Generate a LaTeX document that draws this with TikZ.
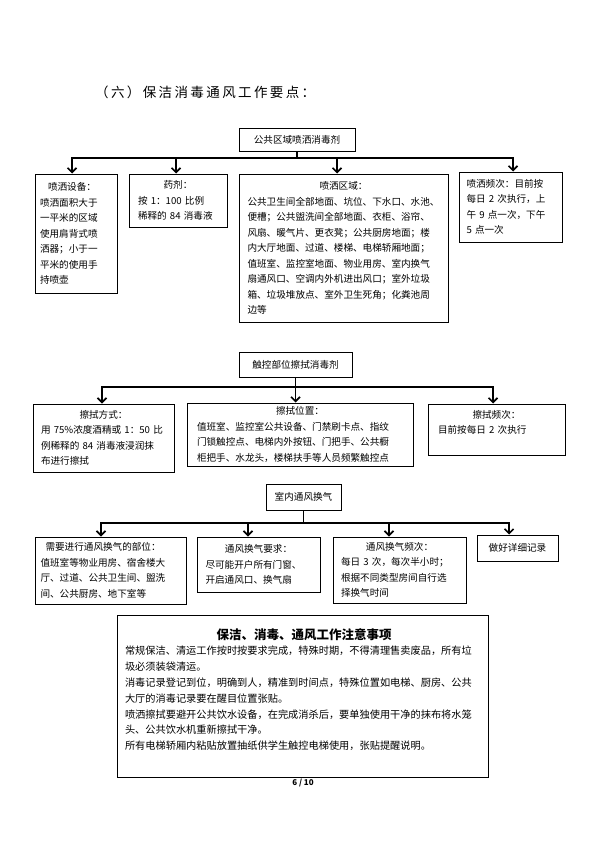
\documentclass[tikz,border=0pt]{standalone}
\usepackage{fontspec}
\setmainfont{Noto Sans CJK SC}
\usetikzlibrary{arrows.meta}
\XeTeXlinebreaklocale "zh"
\XeTeXlinebreakskip=0pt plus 2pt
\newcommand\jl[1]{\makebox[\linewidth][s]{#1}}
\newcommand\cl[1]{\makebox[\linewidth][c]{#1}}
\tikzset{
  box/.style={draw, line width=1pt, inner ysep=0pt, align=left, font=\fontsize{9.6}{15.5}\selectfont},
  head/.style={draw, line width=1pt, inner sep=0pt, font=\fontsize{9.6}{12}\selectfont},
  bus/.style={line width=1.6pt, line cap=rect},
  arr/.style={line width=1.6pt, -{Straight Barb[length=4.5pt,width=9pt]}},
}
\begin{document}
\begin{tikzpicture}[x=1pt,y=-1pt]
\useasboundingbox (0,0) rectangle (600,848);
\node[anchor=west, inner sep=0pt, font=\fontsize{13.5}{16}\selectfont] (title) at (95,92) {\makebox[220pt][s]{（\hfill 六\hfill ）\hfill 保\hfill 洁\hfill 消\hfill 毒\hfill 通\hfill 风\hfill 工\hfill 作\hfill 要\hfill 点\hfill ：}};

% ---- section 1
\node[head, minimum width=116pt, minimum height=22pt] (t1) at (297,140) {公共区域喷洒消毒剂};
\node[box, text width=72pt, inner xsep=5pt, minimum height=119pt] (b1) at (76,233.5) {%
\hspace*{8pt}喷洒设备：\\
\jl{喷洒面积大于}\\
\jl{一平米的区域}\\
\jl{使用肩背式喷}\\
\jl{洒器；小于一}\\
\jl{平米的使用手}\\
持喷壶};
\node[box, text width=80pt, inner xsep=9pt, minimum height=53pt] (b2) at (178,200.5) {%
\cl{药剂：}\\
按 1：100 比例\\
稀释的 84 消毒液};
\node[box, text width=192pt, inner xsep=8.5pt, minimum height=148pt] (b3) at (343.5,248) {%
\cl{喷洒区域：}\\
\jl{公共卫生间全部地面、坑位、下水口、水池、}\\
\jl{便槽；公共盥洗间全部地面、衣柜、浴帘、}\\
\jl{风扇、暖气片、更衣凳；公共厨房地面；楼}\\
\jl{内大厅地面、过道、楼梯、电梯轿厢地面；}\\
\jl{值班室、监控室地面、物业用房、室内换气}\\
\jl{扇通风口、空调内外机进出风口；室外垃圾}\\
\jl{箱、垃圾堆放点、室外卫生死角；化粪池周}\\
边等};
\node[box, text width=88pt, inner xsep=7.5pt, minimum height=70pt] (b4) at (510.5,207) {%
\jl{喷洒频次：目前按}\\
\jl{每日 2 次执行，上}\\
\jl{午 9 点一次，下午}\\
5 点一次};
\coordinate (s1a) at (72,158);
\coordinate (s1b) at (176,158);
\coordinate (s1c) at (337,158);
\coordinate (s1d) at (513,158);
\draw[bus] (t1.south) -- (t1.south |- s1a);
\draw[bus] (s1a) -- (s1d);
\draw[arr] (s1a) -- (s1a |- b1.north);
\draw[arr] (s1b) -- (s1b |- b2.north);
\draw[arr] (s1c) -- (s1c |- b3.north);
\draw[arr] (s1d) -- (s1d |- b4.north);

% ---- section 2
\node[head, minimum width=113pt, minimum height=25pt] (t2) at (295.5,364.5) {触控部位擦拭消毒剂};
\node[box, text width=125pt, inner xsep=8pt, minimum height=68pt] (bA) at (103.5,438) {%
\cl{擦拭方式：}\\
\jl{用 75\%浓度酒精或 1：50 比}\\
\jl{例稀释的 84 消毒液浸润抹}\\
布进行擦拭};
\node[box, text width=206pt, inner xsep=10pt, minimum height=63pt] (bB) at (300,434.5) {%
\cl{擦拭位置：}\\
\jl{值班室、监控室公共设备、门禁刷卡点、指纹}\\
\jl{门锁触控点、电梯内外按钮、门把手、公共橱}\\
\jl{柜把手、水龙头，楼梯扶手等人员频繁触控点}};
\node[box, text width=117pt, inner xsep=10pt, minimum height=51pt] (bC) at (496.5,429.5) {%
\cl{擦拭频次：}\\
目前按每日 2 次执行\\
\mbox{}};
\coordinate (s2a) at (102,387);
\coordinate (s2c) at (493,387);
\draw[bus] (s2a) -- (s2c);
\draw[arr] (t2.south) -- (t2.south |- bB.north);
\draw[arr] (s2a) -- (s2a |- bA.north);
\draw[arr] (s2c) -- (s2c |- bC.north);

% ---- section 3
\node[head, minimum width=75pt, minimum height=26pt] (t3) at (303.5,497) {室内通风换气};
\node[box, text width=140pt, inner xsep=5.5pt, minimum height=67pt] (bP) at (110.5,570.5) {%
\jl{\hspace*{5pt}需要进行通风换气的部位：}\\
\jl{值班室等物业用房、宿舍楼大}\\
\jl{厅、过道、公共卫生间、盥洗}\\
间、公共厨房、地下室等};
\node[box, text width=106pt, inner xsep=8.5pt, minimum height=55pt] (bQ) at (258.5,564.5) {%
\cl{通风换气要求：}\\
尽可能开户所有门窗、\\
开启通风口、换气扇};
\node[box, text width=117pt, inner xsep=8pt, minimum height=66pt] (bR) at (399.5,570) {%
\cl{通风换气频次：}\\
\jl{每日 3 次，每次半小时；}\\
\jl{根据不同类型房间自行选}\\
择换气时间};
\node[box, text width=71pt, inner xsep=5pt, minimum height=26pt] (bS) at (517.5,548) {\cl{做好详细记录}};
\coordinate (s3a) at (101,523);
\coordinate (s3b) at (248,523);
\coordinate (s3c) at (389,523);
\coordinate (s3d) at (509,523);
\draw[bus] (t3.south) -- (t3.south |- s3a);
\draw[bus] (s3a) -- (s3d);
\draw[arr] (s3a) -- (s3a |- bP.north);
\draw[arr] (s3b) -- (s3b |- bQ.north);
\draw[arr] (s3c) -- (s3c |- bR.north);
\draw[arr] (s3d) -- (s3d |- bS.north);

% ---- notes
\node[draw, line width=1pt, minimum width=371pt, minimum height=162pt, inner sep=0pt] (bN) at (302.5,696) {};
\node[anchor=north, inner sep=0pt, text width=358pt, align=left, font=\fontsize{10.2}{15.8}\selectfont] (notes) at (304,628) {%
\cl{\bfseries\fontsize{12.5}{15.8}\selectfont 保洁、消毒、通风工作注意事项}\\
\jl{常规保洁、清运工作按时按要求完成，特殊时期，不得清理售卖废品，所有垃}\\
圾必须装袋清运。\\
\jl{消毒记录登记到位，明确到人，精准到时间点，特殊位置如电梯、厨房、公共}\\
大厅的消毒记录要在醒目位置张贴。\\
\jl{喷洒擦拭要避开公共饮水设备，在完成消杀后，要单独使用干净的抹布将水笼}\\
头、公共饮水机重新擦拭干净。\\
所有电梯轿厢内粘贴放置抽纸供学生触控电梯使用，张贴提醒说明。};
\node[inner sep=0pt, font=\bfseries\fontsize{8}{9}\selectfont] (pg) at (303,783) {6 / 10};
\end{tikzpicture}
\end{document}
